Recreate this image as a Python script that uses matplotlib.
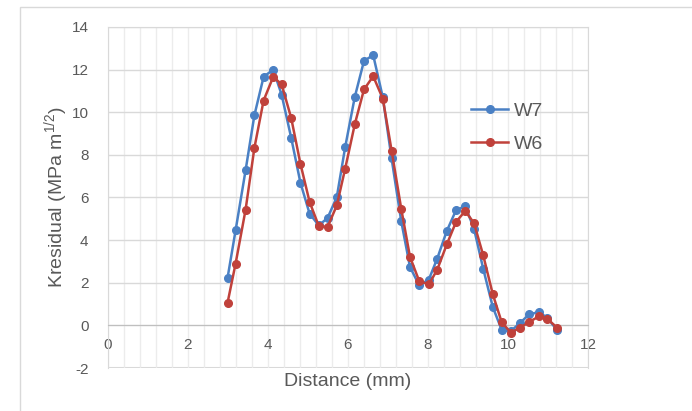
import matplotlib
matplotlib.use("Agg")
import matplotlib.pyplot as plt
import numpy as np

plt.rcParams['font.family'] = ['Liberation Sans', 'DejaVu Sans']
plt.rcParams['axes.unicode_minus'] = False
plt.rcParams['mathtext.fontset'] = 'custom'
plt.rcParams['mathtext.rm'] = 'Liberation Sans'
plt.rcParams['mathtext.it'] = 'Liberation Sans'

# distance (mm)
dist = [2.99, 3.19, 3.44, 3.66, 3.89, 4.13, 4.34, 4.58, 4.81, 5.04, 5.27, 5.49,
        5.72, 5.93, 6.17, 6.40, 6.63, 6.87, 7.09, 7.33, 7.55, 7.78, 8.02, 8.23,
        8.47, 8.70, 8.93, 9.15, 9.38, 9.62, 9.84, 10.07, 10.30, 10.53, 10.77,
        10.98, 11.23]
w7 = [2.24, 4.46, 7.28, 9.86, 11.66, 12.0, 10.83, 8.8, 6.7, 5.24, 4.69, 5.04,
      6.02, 8.37, 10.72, 12.41, 12.68, 10.7, 7.83, 4.9, 2.74, 1.88, 2.15, 3.13,
      4.43, 5.4, 5.59, 4.54, 2.66, 0.86, -0.2, -0.27, 0.11, 0.52, 0.62, 0.36, -0.23]
w6 = [1.07, 2.9, 5.43, 8.33, 10.55, 11.66, 11.31, 9.73, 7.59, 5.79, 4.66, 4.62,
      5.63, 7.36, 9.44, 11.07, 11.69, 10.64, 8.2, 5.48, 3.21, 2.08, 1.92, 2.61,
      3.8, 4.85, 5.37, 4.8, 3.29, 1.46, 0.16, -0.34, -0.11, 0.16, 0.42, 0.31, -0.11]

grey = '#595959'
fig = plt.figure(figsize=(6.92, 4.11), dpi=100)
# outer chart border
fig.patches.append(plt.Rectangle((20/692, -0.1), 1.2, (411-7)/411 + 0.1,
                                 transform=fig.transFigure, fill=False,
                                 edgecolor='#d9d9d9', lw=1))
ax = fig.add_axes([108/692, 43/411, 480/692, 341/411])

ax.plot(dist, w7, '-o', color='#4a80c4', lw=1.8, ms=5.5, label='W7', zorder=3)
ax.plot(dist, w6, '-o', color='#c0413b', lw=1.8, ms=5.5, label='W6', zorder=3)

ax.set_xlim(0, 12)
ax.set_ylim(-2, 14)
ax.set_xticks(np.arange(0, 13, 2))
ax.set_xticks(np.arange(0, 12.01, 0.4), minor=True)
ax.set_yticks(np.arange(-2, 15, 2))
ax.grid(which='major', axis='y', color='#d9d9d9', lw=1)
ax.grid(which='both', axis='x', color='#ececec', lw=1)
ax.set_axisbelow(True)

for s in ['top', 'right', 'left']:
    ax.spines[s].set_color('#d9d9d9')
ax.spines['bottom'].set_position(('data', 0))
ax.spines['bottom'].set_color('#bfbfbf')
ax.axhline(-2, color='#d9d9d9', lw=1.5, zorder=0)
ax.tick_params(axis='both', which='both', length=0, colors=grey, labelsize=11)
ax.tick_params(axis='x', pad=9)
ax.tick_params(axis='y', pad=14)

ax.set_xlabel('Distance (mm)', fontsize=14, color=grey)
ax.xaxis.set_label_coords(0.5, -0.015)
ax.set_ylabel('Kresidual (MPa m$^{1/2}$)', fontsize=14, color=grey)
ax.yaxis.set_label_coords(-0.08, 0.5)

ax.legend(loc='center left', bbox_to_anchor=(0.72, 0.705), frameon=False,
          fontsize=14, labelcolor=grey, handlelength=1.9, handletextpad=0.3,
          labelspacing=0.8)

fig.savefig('out.png', dpi=100)
